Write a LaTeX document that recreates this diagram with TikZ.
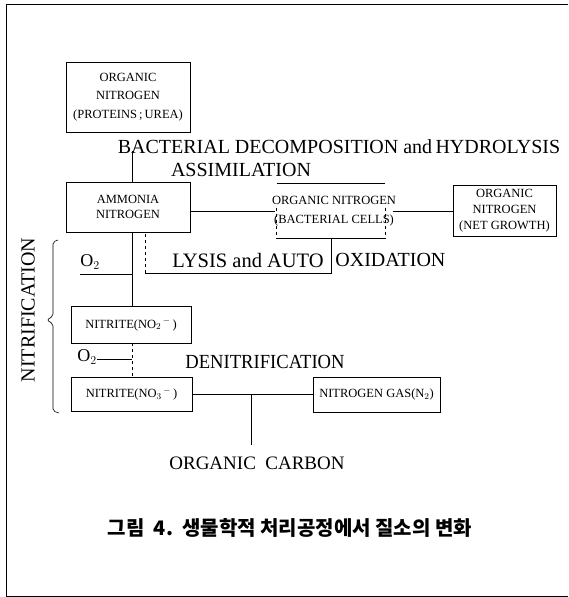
\documentclass[tikz,border=0pt]{standalone}
\usepackage{fontspec}
\setmainfont{Liberation Serif}
\newfontfamily\krfont{Noto Sans CJK KR}
\newfontfamily\condfont[FakeStretch=0.93]{Liberation Serif}
\usetikzlibrary{calc}
\begin{document}
\begin{tikzpicture}[x=1pt,y=-1pt,
  line width=0.8pt,
  boxn/.style={draw, line width=0.8pt, inner sep=0pt, align=center},
  bigtxt/.style={inner sep=0pt, font=\fontsize{20}{24}\selectfont},
  smalltxt/.style={font=\fontsize{12.5}{15}\selectfont}]
\useasboundingbox (0,0) rectangle (568,597);
% frame (no right side)
\draw (568,4) -- (6,4) -- (6,596) -- (568,596);

% boxes
\node[boxn, minimum width=124pt, minimum height=70pt, font=\fontsize{12.5}{18.5}\selectfont] (org) at (128,97)
  {ORGANIC\\NITROGEN\\(PROTEINS\,;\,UREA)};
\node[boxn, minimum width=124pt, minimum height=50pt, font=\fontsize{12.5}{15.5}\selectfont] (amm) at (128,207)
  {AMMONIA\\NITROGEN};
\node[inner sep=0pt, minimum width=124pt, minimum height=54pt, align=center, font=\fontsize{12.5}{19}\selectfont] (bact) at (334,211)
  {ORGANIC NITROGEN\\(BACTERIAL CELLS)};
\draw ([xshift=5pt]bact.north west) -- ([xshift=-11pt]bact.north east);
\draw ([xshift=5pt]bact.south west) -- ([xshift=-11pt]bact.south east);
\draw[dashed, line width=0.5pt] ([xshift=5pt,yshift=-24pt]bact.north west) -- ([xshift=5pt]bact.south west);
\draw[dashed, line width=0.5pt] ([xshift=-11pt,yshift=-24pt]bact.north east) -- ([xshift=-11pt]bact.south east);
\node[boxn, minimum width=103pt, minimum height=51pt, font=\fontsize{12.5}{16}\selectfont] (net) at (504.5,210.5)
  {ORGANIC\\NITROGEN\\(NET GROWTH)};
\node[boxn, minimum width=120pt, minimum height=37pt, font=\fontsize{12.5}{14}\selectfont] (no2) at (131,324.5)
  {NITRITE(NO$_2{}^{\,-}$\,)};
\node[boxn, minimum width=121pt, minimum height=34pt, font=\fontsize{12.5}{14}\selectfont] (no3) at (131.5,394)
  {NITRITE(NO$_3{}^{\,-}$\,)};
\node[boxn, minimum width=127pt, minimum height=35pt, font=\fontsize{12.5}{14}\selectfont] (n2) at (376.5,394.5)
  {NITROGEN GAS(N$_2$)};

% texts
\node[bigtxt] (bdh) at (339,147) {BACTERIAL DECOMPOSITION and\,HYDROLYSIS};
\node[bigtxt] (assim) at (241,170) {ASSIMILATION};
\node[bigtxt, anchor=west, font=\fontsize{20.5}{24}\selectfont] (lys) at (172,260) {LYSIS and AUTO};
\node[bigtxt, anchor=west] (oxi) at (335,260) {OXIDATION};
\node[bigtxt, font=\condfont\fontsize{20}{24}\selectfont] (denit) at (265,362) {DENITRIFICATION};
\node[bigtxt, font=\fontsize{19}{24}\selectfont] (oc) at (257,463) {ORGANIC\ \ CARBON};
\node[bigtxt, rotate=90] (nitr) at (28,310) {NITRIFICATION};
\node[inner sep=0pt, font=\fontsize{18}{20}\selectfont] (o2a) at (90,262) {O$_2$};
\node[inner sep=0pt, font=\fontsize{18}{20}\selectfont] (o2b) at (87,357) {O$_2$};
\node[inner sep=0pt, font=\krfont\bfseries\fontsize{20}{24}\selectfont] (cap) at (290,528)
  {그림\ \ 4.\ \ 생물학적 처리공정에서 질소의 변화};

% coordinates
\coordinate (vx) at (132,0);
\coordinate (bdlow) at (132,151);
\coordinate (o2l) at (80,274);
\coordinate (lysL) at (145,273);
\coordinate (lysR) at (331,273);
\coordinate (cj) at (251,394);
\coordinate (cend) at (251,445);

% connectors
\draw (bdlow) -- (amm.north -| bdlow);
\draw (amm.east |- bact.west) -- ([xshift=3pt]bact.west);
\draw ([xshift=-3pt]bact.east) -- (net.west |- bact.east);
\draw (amm.south -| vx) -- (no2.north -| vx);
\draw (o2l) -- (o2l -| vx);
\draw (bact.south -| lysR) -- (lysR) -- (lysL);
\draw[dashed, line width=0.6pt] (lysL) -- (amm.south -| lysL);
\draw[dashed] (no2.south -| vx) -- (no3.north -| vx);
\draw (o2b.east |- 0,359) -- (vx |- 0,359);
\draw (no3.east) -- (n2.west |- no3.east);
\draw (cj) -- (cend);

% brace
\draw[line width=0.6pt, rounded corners=2pt] (58,240) -- (53,242) -- (53,316) -- (47,320) -- (53,324) -- (53,411) -- (59,413);
\end{tikzpicture}
\end{document}
